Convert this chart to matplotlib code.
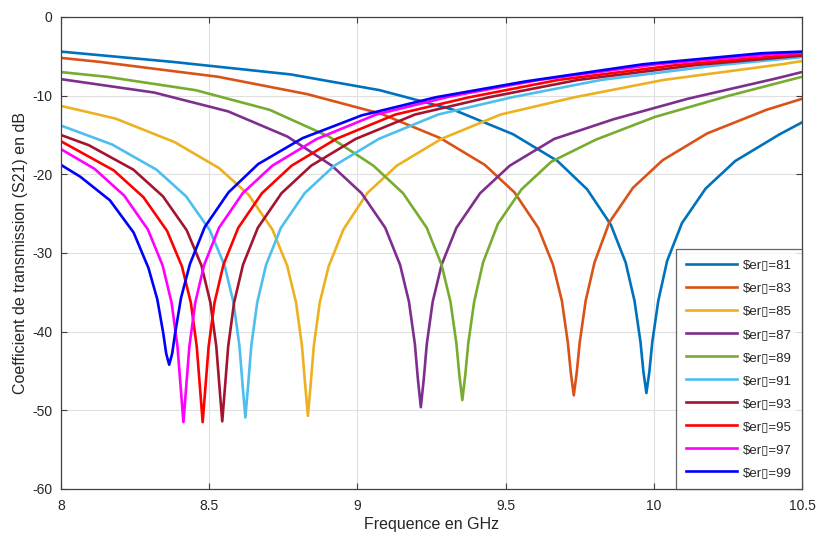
import matplotlib
matplotlib.use("Agg")
import matplotlib.pyplot as plt

plt.rcParams['font.family'] = ['Liberation Sans', 'DejaVu Sans']

labels = ["\\$er\u25AF=81", "\\$er\u25AF=83", "\\$er\u25AF=85", "\\$er\u25AF=87", "\\$er\u25AF=89",
          "\\$er\u25AF=91", "\\$er\u25AF=93", "\\$er\u25AF=95", "\\$er\u25AF=97", "\\$er\u25AF=99"]
colors = ["#0072BD", "#D95319", "#EDB120", "#7E2F8E", "#77AC30",
          "#4DBEEE", "#A2142F", "#FF0000", "#FF00FF", "#0000FF"]

f81 = [8.0, 8.375, 8.775, 9.075, 9.325, 9.525, 9.675, 9.775, 9.855, 9.905, 9.935, 9.955, 9.965, 9.975,
       9.985, 9.995, 10.015, 10.045, 10.095, 10.175, 10.275, 10.425, 10.5]
s81 = [-4.4, -5.7, -7.3, -9.3, -11.8, -14.9, -18.3, -21.9, -26.4, -31.2, -36.1, -41.3, -45.1, -47.8,
       -45.1, -41.3, -36.1, -31.0, -26.2, -21.8, -18.3, -14.9, -13.4]

f83 = [8.0, 8.13, 8.53, 8.83, 9.08, 9.28, 9.43, 9.53, 9.61, 9.66, 9.69, 9.71, 9.72, 9.73,
       9.74, 9.75, 9.77, 9.80, 9.85, 9.93, 10.03, 10.18, 10.38, 10.5]
s83 = [-5.2, -5.7, -7.6, -9.8, -12.3, -15.4, -18.8, -22.3, -26.8, -31.5, -36.1, -41.4, -45.2, -48.1,
       -45.2, -41.4, -36.1, -31.2, -26.1, -21.7, -18.2, -14.8, -11.8, -10.4]

f85 = [8.0, 8.183, 8.383, 8.533, 8.633, 8.713, 8.763, 8.793, 8.813, 8.823, 8.833, 8.843, 8.853, 8.873,
       8.903, 8.953, 9.033, 9.133, 9.283, 9.483, 9.733, 10.033, 10.433, 10.5]
s85 = [-11.3, -12.9, -15.9, -19.2, -22.6, -27.0, -31.6, -36.3, -41.8, -46.4, -50.7, -46.4, -41.8, -36.3,
       -31.7, -27.0, -22.4, -18.9, -15.5, -12.4, -10.2, -8.0, -6.0, -5.6]

f87 = [8.0, 8.314, 8.564, 8.764, 8.914, 9.014, 9.094, 9.144, 9.174, 9.194, 9.204, 9.214, 9.224, 9.234,
       9.254, 9.284, 9.334, 9.414, 9.514, 9.664, 9.864, 10.114, 10.414, 10.5]
s87 = [-7.9, -9.6, -12.0, -15.2, -18.9, -22.4, -26.8, -31.5, -36.2, -41.6, -46.0, -49.6, -46.0, -41.6,
       -36.2, -31.5, -26.8, -22.4, -18.9, -15.5, -13.0, -10.4, -7.8, -7.0]

f89 = [8.0, 8.154, 8.454, 8.704, 8.904, 9.054, 9.154, 9.234, 9.284, 9.314, 9.334, 9.344, 9.354, 9.364,
       9.374, 9.394, 9.424, 9.474, 9.554, 9.654, 9.804, 10.004, 10.254, 10.5]
s89 = [-7.0, -7.6, -9.3, -11.8, -15.2, -18.9, -22.4, -26.8, -31.5, -36.2, -41.5, -45.5, -48.7, -45.5,
       -41.5, -36.2, -31.2, -26.3, -21.9, -18.4, -15.6, -12.7, -10.0, -7.6]

f91 = [8.0, 8.172, 8.322, 8.422, 8.502, 8.552, 8.582, 8.602, 8.612, 8.622, 8.632, 8.642, 8.662, 8.692,
       8.742, 8.822, 8.922, 9.072, 9.272, 9.522, 9.822, 10.222, 10.5]
s91 = [-13.8, -16.2, -19.4, -22.8, -27.1, -31.6, -36.3, -41.8, -46.5, -50.9, -46.5, -41.8, -36.3, -31.5,
       -26.8, -22.4, -18.9, -15.5, -12.4, -10.2, -8.0, -6.1, -5.1]

f93 = [8.0, 8.094, 8.244, 8.344, 8.424, 8.474, 8.504, 8.524, 8.534, 8.544, 8.554, 8.564, 8.584, 8.614,
       8.664, 8.744, 8.844, 8.994, 9.194, 9.444, 9.744, 10.144, 10.5]
s93 = [-15.0, -16.3, -19.4, -22.8, -27.1, -31.6, -36.3, -41.9, -46.7, -51.4, -46.7, -41.9, -36.3, -31.5,
       -26.8, -22.4, -18.9, -15.5, -12.4, -10.2, -8.0, -6.1, -4.9]

f95 = [8.0, 8.178, 8.278, 8.358, 8.408, 8.438, 8.458, 8.468, 8.478, 8.488, 8.498, 8.518, 8.548,
       8.598, 8.678, 8.778, 8.928, 9.128, 9.378, 9.678, 10.078, 10.5]
s95 = [-15.8, -19.5, -22.9, -27.2, -31.7, -36.3, -41.9, -46.7, -51.5, -46.7, -41.9, -36.3, -31.5,
       -26.8, -22.4, -18.9, -15.5, -12.4, -10.2, -8.0, -6.1, -4.7]

f97 = [8.0, 8.113, 8.213, 8.293, 8.343, 8.373, 8.393, 8.403, 8.413, 8.423, 8.433, 8.453, 8.483,
       8.533, 8.613, 8.713, 8.863, 9.063, 9.313, 9.613, 10.013, 10.413, 10.5]
s97 = [-16.8, -19.3, -22.7, -27.0, -31.6, -36.3, -41.9, -46.7, -51.5, -46.7, -41.9, -36.3, -31.5,
       -26.8, -22.4, -18.9, -15.5, -12.4, -10.1, -8.0, -6.0, -4.7, -4.55]

f99 = [8.0, 8.065, 8.165, 8.245, 8.295, 8.325, 8.345, 8.355, 8.365, 8.375, 8.385, 8.405, 8.435,
       8.485, 8.565, 8.665, 8.815, 9.015, 9.265, 9.565, 9.965, 10.365, 10.5]
s99 = [-18.8, -20.3, -23.3, -27.4, -31.9, -35.9, -40.2, -42.8, -44.2, -42.8, -40.2, -35.7, -31.4,
       -26.7, -22.3, -18.7, -15.4, -12.5, -10.2, -8.2, -6.0, -4.6, -4.4]

freqs = [f81, f83, f85, f87, f89, f91, f93, f95, f97, f99]
s21 = [s81, s83, s85, s87, s89, s91, s93, s95, s97, s99]

xticks = [8, 8.5, 9, 9.5, 10, 10.5]
xticklabels = ["8", "8.5", "9", "9.5", "10", "10.5"]
yticks = [0, -10, -20, -30, -40, -50, -60]
yticklabels = ["0", "-10", "-20", "-30", "-40", "-50", "-60"]

fig = plt.figure(figsize=(8.19, 5.37), dpi=100)
ax = fig.add_axes([61/819, 48/537, 741/819, 472/537])

for f, s, c, lab in zip(freqs, s21, colors, labels):
    ax.plot(f, s, color=c, lw=1.9, label=lab, solid_joinstyle='round')

ax.set_xlim(8, 10.5)
ax.set_ylim(-60, 0)
ax.set_xticks(xticks)
ax.set_xticklabels(xticklabels)
ax.set_yticks(yticks)
ax.set_yticklabels(yticklabels)
ax.grid(True, color='#e0e0e0', lw=0.8)
ax.set_axisbelow(True)
for sp in ax.spines.values():
    sp.set_color('#404040')
    sp.set_linewidth(0.9)
ax.tick_params(direction='in', length=4, colors='#404040', labelcolor='#262626', labelsize=10,
               top=True, right=True, labeltop=False, labelright=False)
ax.tick_params(axis='x', pad=7)
ax.tick_params(axis='y', pad=6)
ax.set_xlabel("Frequence en GHz", fontsize=11.5, color='#262626', labelpad=3)
ax.set_ylabel("Coefficient de transmission (S21) en dB", fontsize=11.5, color='#262626', labelpad=3)

leg = ax.legend(loc='lower right', fontsize=9.5, frameon=True, fancybox=False, edgecolor='#404040',
                handlelength=3.9, labelspacing=0.82, borderpad=0.75, handletextpad=0.45,
                borderaxespad=0.0)
leg.get_frame().set_linewidth(0.9)
for t in leg.get_texts():
    t.set_color('#262626')

fig.savefig("out.png", dpi=100, facecolor='white')
